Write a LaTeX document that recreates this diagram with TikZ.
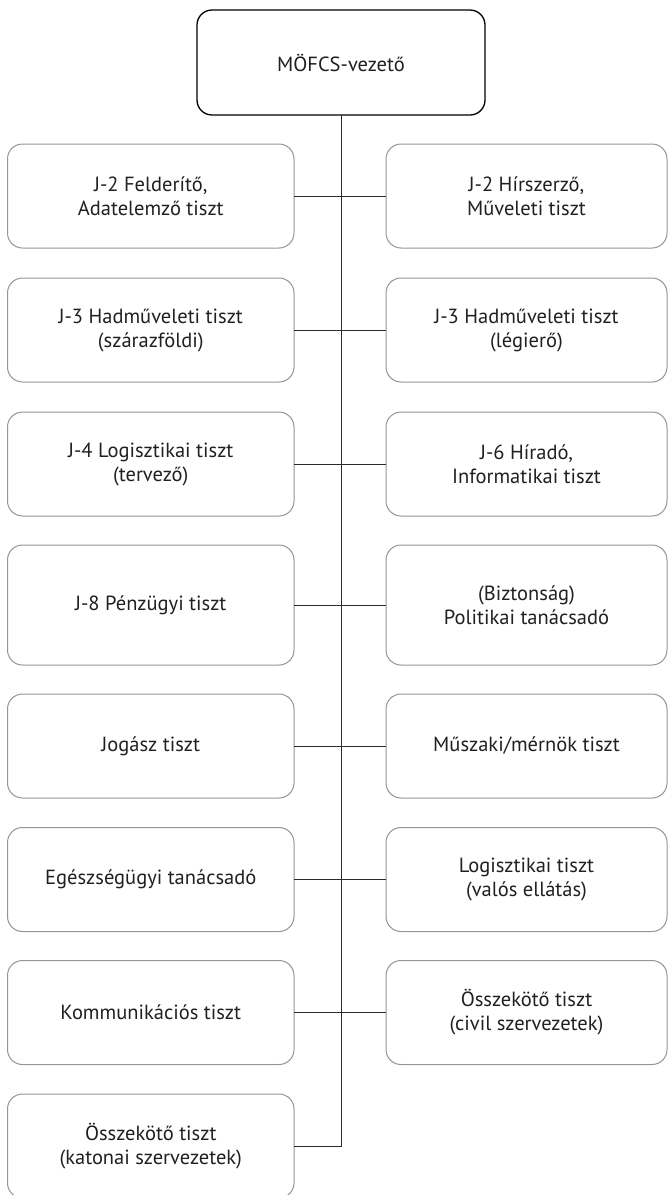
\documentclass[tikz,border=0pt]{standalone}
\usepackage{fontspec}
\setmainfont{PT Sans}
\definecolor{boxgray}{HTML}{939598}
\definecolor{txt}{HTML}{231F20}
\definecolor{linec}{HTML}{2B2B2B}
\begin{document}
\begin{tikzpicture}[x=1pt,y=-1pt,
  every node/.style={inner sep=0pt, outer sep=0pt},
  unit/.style={draw=boxgray, line width=1pt, rounded corners=15pt, fill=white,
    minimum height=104pt, align=center, text=txt,
    font=\fontsize{20.5}{24}\selectfont},
  leftunit/.style={unit, minimum width=286.5pt},
  rightunit/.style={unit, minimum width=281pt},
  headbox/.style={draw=black, line width=1.3pt, rounded corners=15pt, fill=white,
    minimum width=288pt, minimum height=105pt, align=center, text=txt,
    font=\fontsize{20.5}{24}\selectfont},
  conn/.style={draw=linec, line width=0.9pt}]
\useasboundingbox (0,0) rectangle (668,1195);
\node[headbox] (top) at (341,62.5) {MÖFCS-vezető};
\node[leftunit]  (L1) at (150.75,196) {J-2 Felderítő,\\Adatelemző tiszt};
\node[rightunit] (R1) at (526.5,196) {J-2 Hírszerző,\\Műveleti tiszt};
\node[leftunit]  (L2) at (150.75,330) {J-3 Hadműveleti tiszt\\(szárazföldi)};
\node[rightunit] (R2) at (526.5,330) {J-3 Hadműveleti tiszt\\(légierő)};
\node[leftunit]  (L3) at (150.75,464) {J-4 Logisztikai tiszt\\(tervező)};
\node[rightunit] (R3) at (526.5,464) {J-6 Híradó,\\Informatikai tiszt};
\node[leftunit, minimum height=120pt]  (L4) at (150.75,605) {J-8 Pénzügyi tiszt};
\node[rightunit, minimum height=120pt] (R4) at (526.5,605) {(Biztonság)\\Politikai tanácsadó};
\node[leftunit]  (L5) at (150.75,746) {Jogász tiszt};
\node[rightunit] (R5) at (526.5,746) {Műszaki/mérnök tiszt};
\node[leftunit]  (L6) at (150.75,879.5) {Egészségügyi tanácsadó};
\node[rightunit] (R6) at (526.5,879.5) {Logisztikai tiszt\\(valós ellátás)};
\node[leftunit]  (L7) at (150.75,1012.5) {Kommunikációs tiszt};
\node[rightunit] (R7) at (526.5,1012.5) {Összekötő tiszt\\(civil szervezetek)};
\node[leftunit]  (L8) at (150.75,1146) {Összekötő tiszt\\(katonai szervezetek)};
\draw[conn] (L8.east) -| (top.south);
\foreach \k in {1,...,7} {\draw[conn] (L\k.east) -- (R\k.west);}
\end{tikzpicture}
\end{document}
